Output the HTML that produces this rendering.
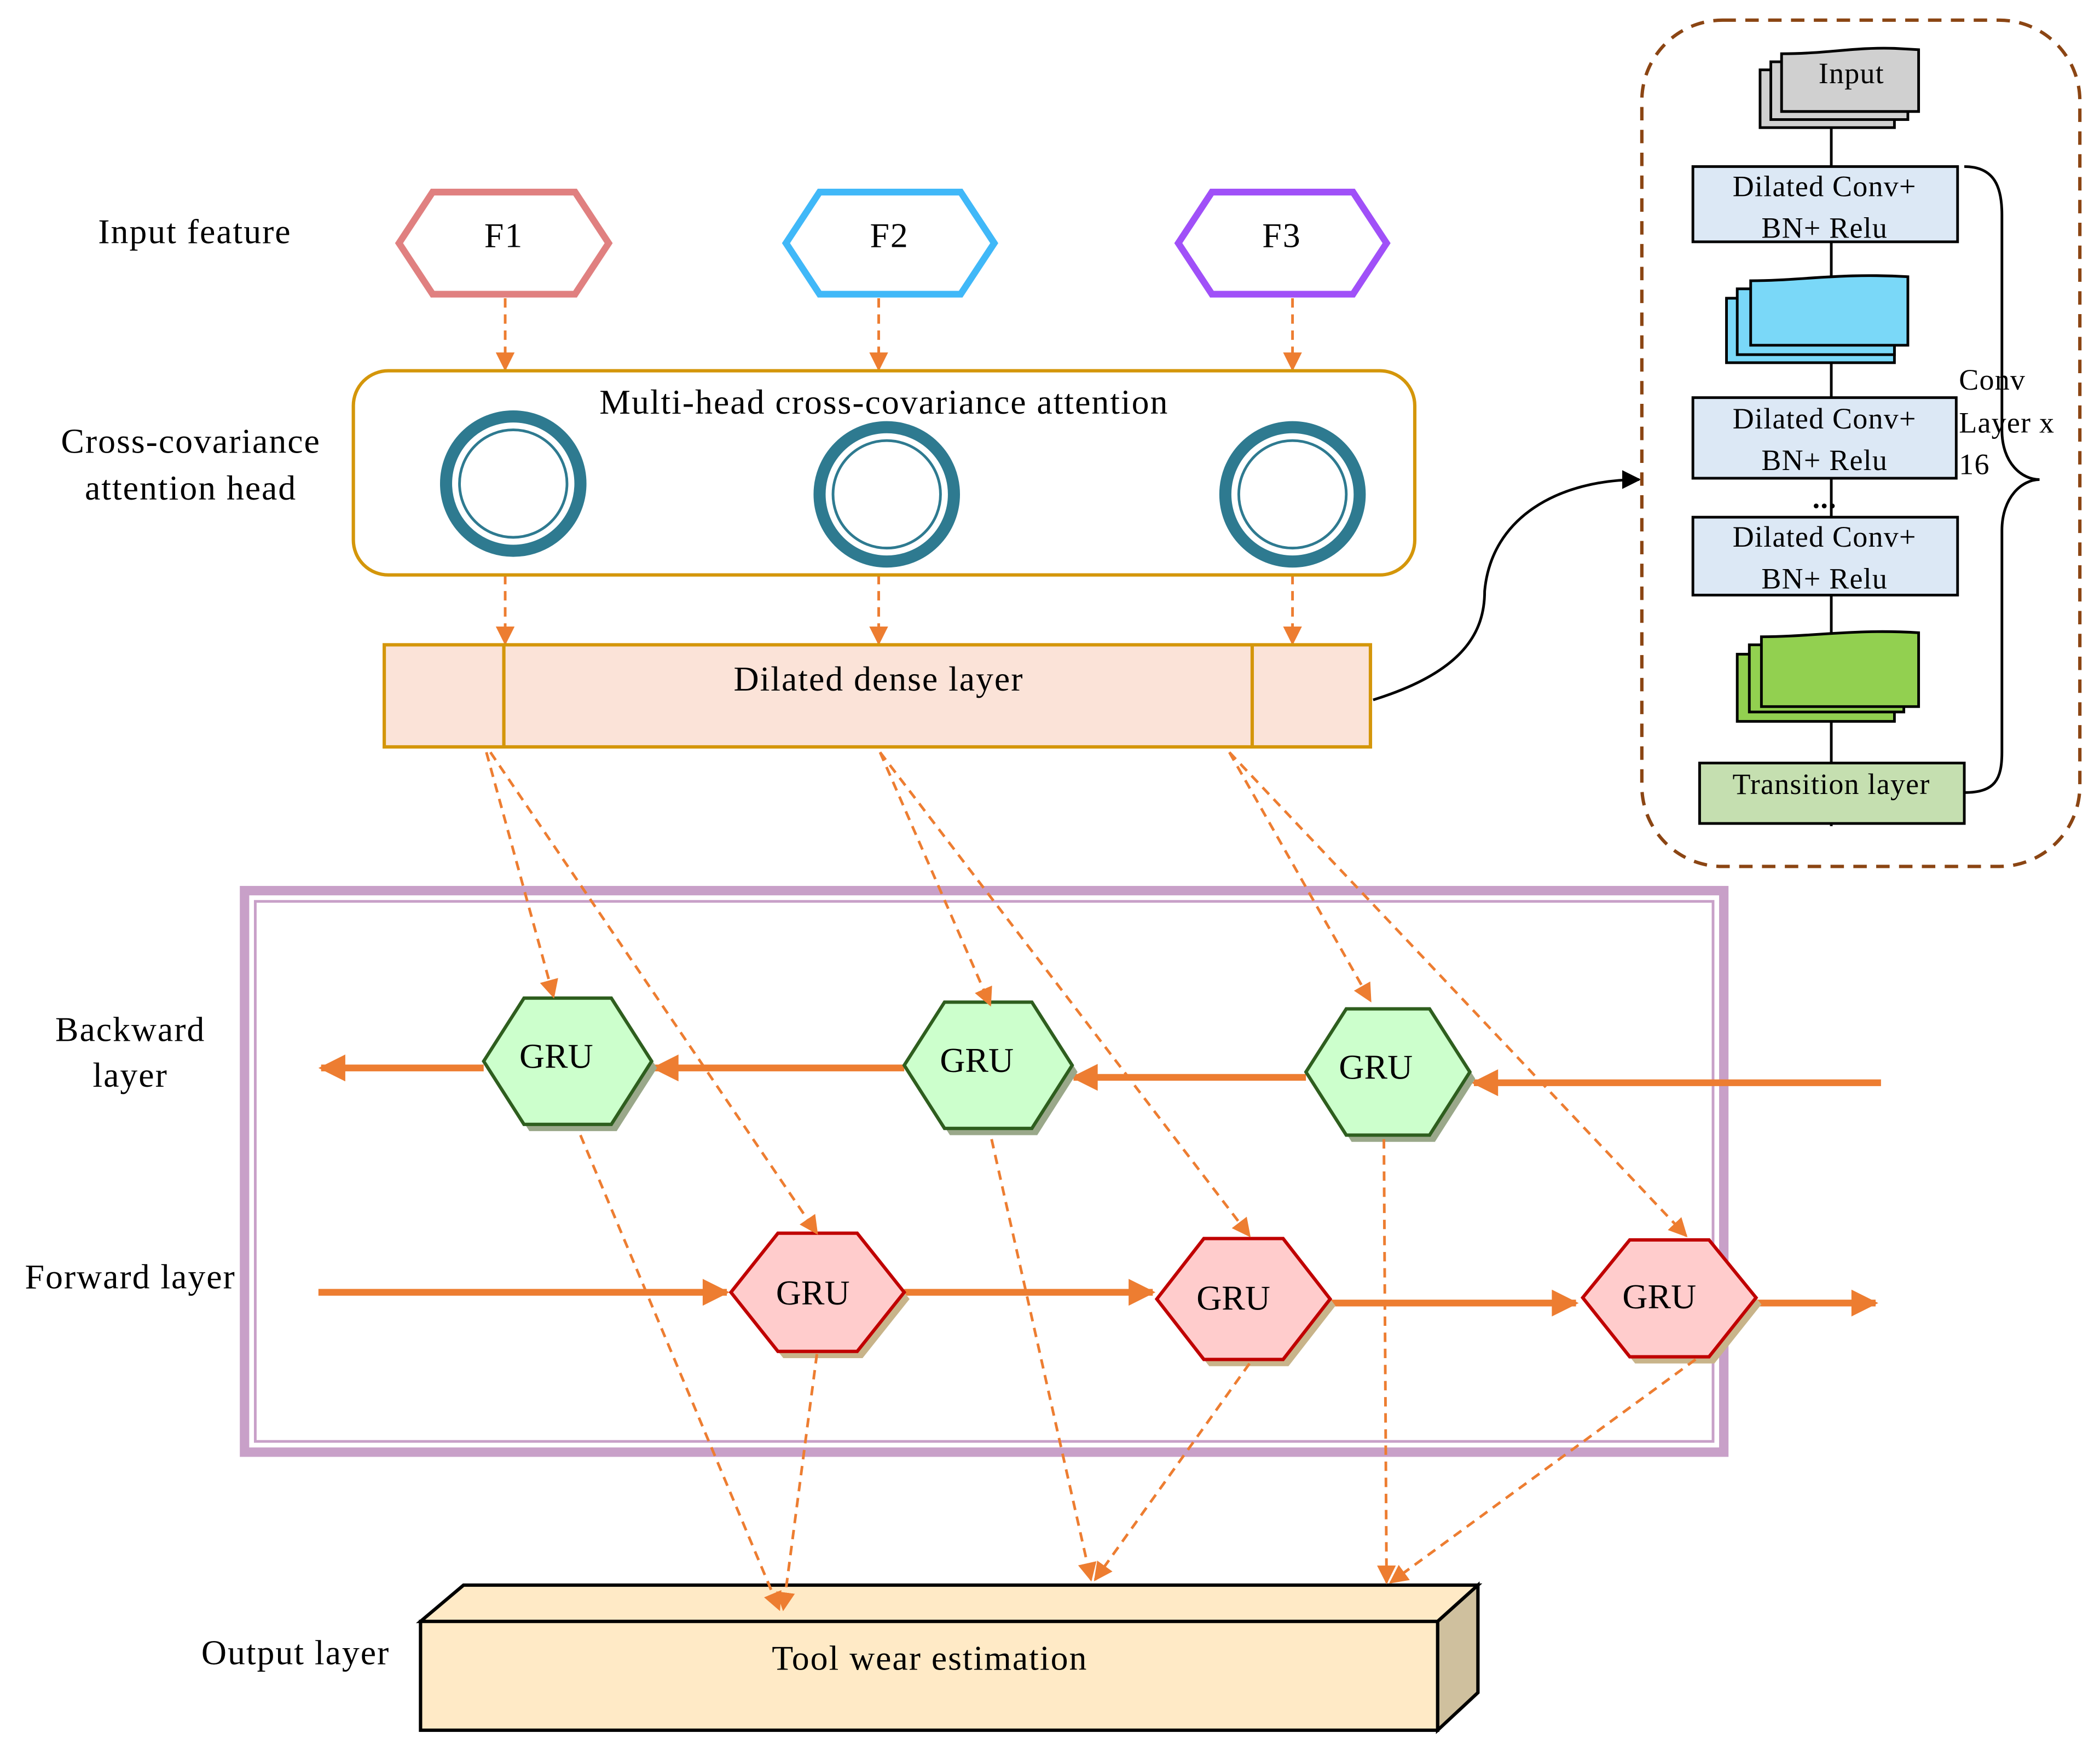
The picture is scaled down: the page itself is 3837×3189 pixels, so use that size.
<!DOCTYPE html>
<html><head><meta charset="utf-8"><style>html,body{margin:0;padding:0;background:#fff}svg{display:block}</style></head><body>
<svg width="3837" height="3189" viewBox="0 0 1563 1299" preserveAspectRatio="none" xmlns="http://www.w3.org/2000/svg" font-family="'Liberation Serif',serif" font-size="26" letter-spacing="0.8">
<defs>
<marker id="ad2" viewBox="0 0 10 10" markerWidth="14" markerHeight="14" refX="9" refY="5" orient="auto" markerUnits="userSpaceOnUse"><path d="M0,0 L10,5 L0,10z" fill="#ed7d31"/></marker>
<marker id="as" viewBox="0 0 10 10" markerWidth="22" markerHeight="20" refX="9" refY="5" orient="auto" markerUnits="userSpaceOnUse"><path d="M0,0 L10,5 L0,10z" fill="#ed7d31"/></marker>
<marker id="ab" viewBox="0 0 10 10" markerWidth="14" markerHeight="14" refX="9" refY="5" orient="auto" markerUnits="userSpaceOnUse"><path d="M0,0 L10,5 L0,10z" fill="#000"/></marker>
</defs>
<rect width="1563" height="1299" fill="#fff"/>

<text x="145" y="181" text-anchor="middle">Input feature</text>
<text x="142" y="337" text-anchor="middle">Cross-covariance</text>
<text x="142" y="372" text-anchor="middle">attention head</text>
<text x="97" y="775" text-anchor="middle">Backward</text>
<text x="97" y="809" text-anchor="middle">layer</text>
<text x="97" y="959" text-anchor="middle">Forward layer</text>
<text x="220" y="1239" text-anchor="middle">Output layer</text>

<g stroke-width="5" fill="#fff">
<polygon points="297,181 322,143 428,143 453,181 428,219 322,219" stroke="#e08080"/>
<polygon points="585,181 610,143 715,143 740,181 715,219 610,219" stroke="#40b8f8"/>
<polygon points="877,181 902,143 1007,143 1032,181 1007,219 902,219" stroke="#a050f8"/>
</g>
<text x="375" y="184" text-anchor="middle">F1</text>
<text x="662" y="184" text-anchor="middle">F2</text>
<text x="954" y="184" text-anchor="middle">F3</text>

<g stroke="#ed7d31" stroke-width="2" stroke-dasharray="7,5" fill="none" marker-end="url(#ad2)">
<line x1="376" y1="222" x2="376" y2="275"/>
<line x1="654" y1="222" x2="654" y2="275"/>
<line x1="962" y1="222" x2="962" y2="275"/>
<line x1="376" y1="428" x2="376" y2="479"/>
<line x1="654" y1="428" x2="654" y2="479"/>
<line x1="962" y1="428" x2="962" y2="479"/>
</g>

<rect x="263" y="276" width="790" height="152" rx="26" fill="none" stroke="#d4960a" stroke-width="2.5"/>
<text x="658" y="308" text-anchor="middle">Multi-head cross-covariance attention</text>
<g fill="none" stroke="#2e7a90">
<circle cx="382" cy="360" r="50" stroke-width="9"/><circle cx="382" cy="360" r="40" stroke-width="2"/>
<circle cx="660" cy="368" r="50" stroke-width="9"/><circle cx="660" cy="368" r="40" stroke-width="2"/>
<circle cx="962" cy="368" r="50" stroke-width="9"/><circle cx="962" cy="368" r="40" stroke-width="2"/>
</g>

<rect x="286" y="480" width="734" height="76" fill="#fbe3d8" stroke="#d4960a" stroke-width="2.5"/>
<line x1="375" y1="480" x2="375" y2="556" stroke="#d4960a" stroke-width="2.5"/>
<line x1="932" y1="480" x2="932" y2="556" stroke="#d4960a" stroke-width="2.5"/>
<text x="654" y="514" text-anchor="middle">Dilated dense layer</text>

<path d="M1022 521 C1090 500 1105 470 1105 440 C1110 385 1160 357 1220 357" fill="none" stroke="#000" stroke-width="2" marker-end="url(#ab)"/>

<rect x="1222" y="15" width="326" height="630" rx="60" fill="none" stroke="#8b4513" stroke-width="2.5" stroke-dasharray="10,7"/>
<line x1="1363" y1="95" x2="1363" y2="615" stroke="#000" stroke-width="2"/>
<g stroke="#000" stroke-width="2">
<rect x="1310" y="52" width="100" height="43" fill="#d0d0d0"/>
<rect x="1318" y="46" width="102" height="43" fill="#d0d0d0"/>
<path d="M1326 40 C1360 40 1380 35 1410 36 L1428 37 L1428 83 L1326 83z" fill="#d0d0d0"/>
<rect x="1260" y="124" width="197" height="56" fill="#dce8f5"/>
<rect x="1285" y="222" width="125" height="48" fill="#7ad8f8"/>
<rect x="1293" y="215" width="117" height="49" fill="#7ad8f8"/>
<path d="M1303 209 C1340 209 1370 203 1420 206 L1420 257 L1303 257z" fill="#7ad8f8"/>
<rect x="1260" y="296" width="196" height="60" fill="#dce8f5"/>
<rect x="1260" y="385" width="197" height="58" fill="#dce8f5"/>
<rect x="1293" y="487" width="117" height="50" fill="#92d050"/>
<rect x="1302" y="480" width="115" height="50" fill="#92d050"/>
<path d="M1311 474 C1350 474 1380 468 1428 471 L1428 526 L1311 526z" fill="#92d050"/>
<rect x="1265" y="568" width="197" height="45" fill="#c5dfb0"/>
</g>
<g font-size="22" text-anchor="middle" letter-spacing="0.5">
<text x="1378" y="62">Input</text>
<text x="1358" y="146">Dilated Conv+</text><text x="1358" y="177">BN+ Relu</text>
<text x="1358" y="319">Dilated Conv+</text><text x="1358" y="350">BN+ Relu</text>
<text x="1358" y="378" font-weight="bold">...</text>
<text x="1358" y="407">Dilated Conv+</text><text x="1358" y="438">BN+ Relu</text>
<text x="1363" y="591">Transition layer</text>
</g>
<g font-size="22" letter-spacing="0.5"><text x="1458" y="290">Conv</text><text x="1458" y="322">Layer x</text><text x="1458" y="353">16</text></g>
<path d="M1462 124 C1485 124 1490 140 1490 160 L1490 320 C1490 345 1505 357 1518 357 C1505 357 1490 370 1490 395 L1490 560 C1490 580 1485 590 1462 590" fill="none" stroke="#000" stroke-width="2"/>

<rect x="182" y="663" width="1101" height="418" fill="none" stroke="#c8a0c8" stroke-width="7"/>
<rect x="190" y="671" width="1085" height="402" fill="none" stroke="#c8a0c8" stroke-width="2"/>

<g stroke="#ed7d31" stroke-width="5" marker-end="url(#as)">
<line x1="1400" y1="806" x2="1097" y2="806"/>
<line x1="972" y1="802" x2="799" y2="802"/>
<line x1="673" y1="795" x2="487" y2="795"/>
<line x1="360" y1="795" x2="239" y2="795"/>
<line x1="237" y1="962" x2="541" y2="962"/>
<line x1="673" y1="962" x2="858" y2="962"/>
<line x1="990" y1="970" x2="1173" y2="970"/>
<line x1="1307" y1="970" x2="1396" y2="970"/>
</g>

<g stroke-width="2.5">
<g transform="translate(4,5)" fill="#9aa88a" stroke="none">
<polygon points="360,790 390,743 455,743 485,790 455,837 390,837"/>
<polygon points="673,793 703,746 768,746 798,793 768,840 703,840"/>
<polygon points="972,798 1002,751 1064,751 1094,798 1064,845 1002,845"/>
</g>
<g transform="translate(4,5)" fill="#c8b48a" stroke="none">
<polygon points="544,962 579,918 638,918 673,962 638,1006 579,1006"/>
<polygon points="861,967 896,922 955,922 990,967 955,1012 896,1012"/>
<polygon points="1178,966 1213,923 1272,923 1307,966 1272,1010 1213,1010"/>
</g>
<g fill="#ccffcc" stroke="#2e5e1e">
<polygon points="360,790 390,743 455,743 485,790 455,837 390,837"/>
<polygon points="673,793 703,746 768,746 798,793 768,840 703,840"/>
<polygon points="972,798 1002,751 1064,751 1094,798 1064,845 1002,845"/>
</g>
<g fill="#ffcccc" stroke="#c00000">
<polygon points="544,962 579,918 638,918 673,962 638,1006 579,1006"/>
<polygon points="861,967 896,922 955,922 990,967 955,1012 896,1012"/>
<polygon points="1178,966 1213,923 1272,923 1307,966 1272,1010 1213,1010"/>
</g>
</g>
<g text-anchor="middle" letter-spacing="0">
<text x="414" y="795">GRU</text><text x="727" y="798">GRU</text><text x="1024" y="803">GRU</text>
<text x="605" y="971">GRU</text><text x="918" y="975">GRU</text><text x="1235" y="974">GRU</text>
</g>

<g stroke="#000" stroke-width="2.5">
<polygon points="313,1207 345,1180 1100,1180 1070,1207" fill="#ffeac6"/>
<polygon points="1070,1207 1100,1180 1100,1260 1070,1288" fill="#cfc09e"/>
<rect x="313" y="1207" width="757" height="81" fill="#ffeac6"/>
</g>
<text x="692" y="1243" text-anchor="middle">Tool wear estimation</text>

<g stroke="#ed7d31" stroke-width="2" stroke-dasharray="7,5" fill="none" marker-end="url(#ad2)">
<line x1="362" y1="560" x2="412" y2="742"/>
<line x1="365" y1="560" x2="608" y2="918"/>
<line x1="655" y1="560" x2="737" y2="748"/>
<line x1="655" y1="560" x2="930" y2="920"/>
<line x1="915" y1="560" x2="1020" y2="745"/>
<line x1="915" y1="560" x2="1255" y2="920"/>
<line x1="432" y1="845" x2="580" y2="1198"/>
<line x1="608" y1="1008" x2="583" y2="1198"/>
<line x1="738" y1="848" x2="812" y2="1176"/>
<line x1="930" y1="1015" x2="815" y2="1176"/>
<line x1="1030" y1="848" x2="1032" y2="1178"/>
<line x1="1262" y1="1012" x2="1035" y2="1178"/>
</g>
</svg>
</body></html>
